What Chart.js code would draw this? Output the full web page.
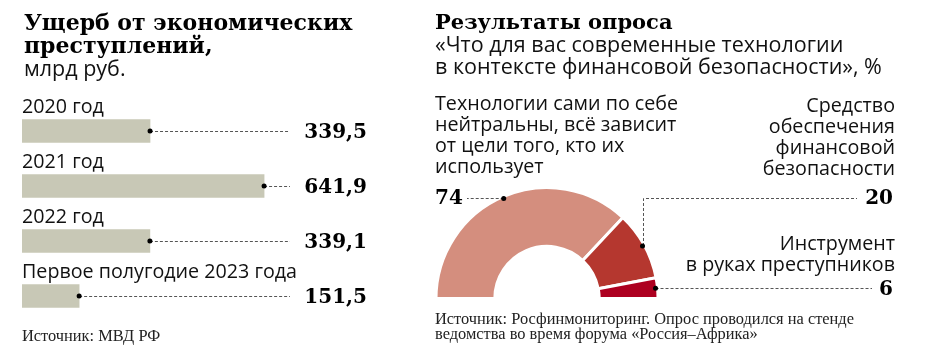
<!DOCTYPE html>
<html lang="ru">
<head>
<meta charset="utf-8">
<script src="https://cdn.jsdelivr.net/npm/chart.js@4.4.0/dist/chart.umd.min.js"></script>
<style>
html, body { margin: 0; padding: 0; background: #fff; }
#wrap { position: relative; width: 930px; height: 363px; overflow: hidden; font-family: "Open Sans", sans-serif; color: #111; }
canvas { position: absolute; top: 0; }
.t { position: absolute; white-space: nowrap; }
.hd { font-family: "DejaVu Serif", serif; font-weight: bold; font-size: 21px; line-height: 23px; color: #000; }
.sub { font-size: 21.5px; line-height: 22px; }
.src { font-family: "Liberation Serif", serif; font-size: 16.4px; line-height: 15px; color: #222; }
</style>
</head>
<body>
<div id="wrap">
  <canvas id="bars" width="420" height="363" style="left:0"></canvas>
  <canvas id="poll" width="510" height="363" style="left:420px"></canvas>

  <div class="t" style="left:24px; top:11px">
    <div class="hd" style="font-size:22px">Ущерб от экономических<br>преступлений,</div>
    <div class="sub">млрд руб.</div>
  </div>
  <div class="t src" style="left:22px; top:328px">Источник: МВД РФ</div>

  <div class="t" style="left:435px; top:10px">
    <div class="hd">Результаты опроса</div>
    <div class="sub">«Что для вас современные технологии<br>в контексте финансовой безопасности», %</div>
  </div>
  <div class="t src" style="left:435px; top:311px">Источник: Росфинмониторинг. Опрос проводился на стенде<br>ведомства во время форума «Россия–Африка»</div>
</div>

<script>
// ущерб, млрд руб.
const years = ['2020 год', '2021 год', '2022 год', 'Первое полугодие 2023 года'];
const damage = [339.5, 641.9, 339.1, 151.5];

// опрос, %
const answers = [
  ['Технологии сами по себе', 'нейтральны, всё зависит', 'от цели того, кто их', 'использует'],
  ['Средство', 'обеспечения', 'финансовой', 'безопасности'],
  ['Инструмент', 'в руках преступников']
];
const shares = [74, 20, 6];

const BODY = '19.7px "Open Sans"';
const NUM = 'bold 20px "DejaVu Serif"';
const fmt = v => v.toFixed(1).replace('.', ',');

function dashed(ctx, pts) {
  ctx.save();
  ctx.setLineDash([3, 2]);
  ctx.strokeStyle = '#555';
  ctx.lineWidth = 1;
  ctx.beginPath();
  ctx.moveTo(pts[0][0], pts[0][1]);
  for (let i = 1; i < pts.length; i++) ctx.lineTo(pts[i][0], pts[i][1]);
  ctx.stroke();
  ctx.restore();
}
function dot(ctx, x, y) {
  ctx.beginPath();
  ctx.arc(x, y, 2.5, 0, Math.PI * 2);
  ctx.fillStyle = '#000';
  ctx.fill();
}

const barLabels = {
  id: 'barLabels',
  afterDatasetsDraw(chart) {
    const ctx = chart.ctx;
    const area = chart.chartArea;
    chart.getDatasetMeta(0).data.forEach((bar, i) => {
      const top = bar.y - bar.height / 2;
      ctx.font = BODY;
      ctx.fillStyle = '#111';
      ctx.textAlign = 'left';
      ctx.textBaseline = 'alphabetic';
      ctx.fillText(years[i], area.left, top - 7);
      const y = Math.round(bar.y) + 0.5;
      dashed(ctx, [[bar.x, y], [area.right + 4, y]]);
      dot(ctx, bar.x, bar.y);
      ctx.font = NUM;
      ctx.fillStyle = '#000';
      ctx.textAlign = 'right';
      ctx.fillText(fmt(damage[i]), area.right + 81, bar.y + 7);
    });
  }
};

new Chart(document.getElementById('bars'), {
  type: 'bar',
  data: {
    labels: years,
    datasets: [{
      data: damage,
      backgroundColor: '#c8c8b6',
      barThickness: 23
    }]
  },
  options: {
    responsive: false,
    animation: false,
    indexAxis: 'y',
    layout: { padding: { left: 22, top: 103.5, right: 134, bottom: 39.5 } },
    scales: {
      x: { display: false, min: 0, max: 700 },
      y: { display: false }
    },
    plugins: { legend: { display: false }, tooltip: { enabled: false } }
  },
  plugins: [barLabels]
});

// where the captions of the poll sit, canvas-relative
const pollLayout = [
  { align: 'left', x: 15, y: 110, numY: 204, lead: 'left', end: 47 },
  { align: 'right', x: 475, y: 112, numY: 204, lead: 'upRight', end: 437 },
  { align: 'right', x: 475, y: 250, numY: 295, lead: 'right', end: 452 }
];

const pollLabels = {
  id: 'pollLabels',
  afterDatasetsDraw(chart) {
    const ctx = chart.ctx;
    chart.getDatasetMeta(0).data.forEach((arc, i) => {
      const p = arc.getProps(['x', 'y', 'startAngle', 'endAngle', 'outerRadius']);
      const mid = (p.startAngle + p.endAngle) / 2;
      const r = p.outerRadius - 2;
      const dx = p.x + Math.cos(mid) * r;
      const dy = p.y + Math.sin(mid) * r;
      const L = pollLayout[i];

      ctx.font = BODY;
      ctx.fillStyle = '#111';
      ctx.textAlign = L.align;
      ctx.textBaseline = 'alphabetic';
      answers[i].forEach((line, k) => ctx.fillText(line, L.x, L.y + k * 21));

      ctx.font = NUM;
      ctx.fillStyle = '#000';
      const nx = L.align === 'left' ? L.x : L.x - 2;
      ctx.fillText(String(shares[i]), nx, L.numY);

      if (L.lead === 'left') {
        const y = Math.round(dy) + 0.5;
        dashed(ctx, [[dx, y], [L.end, y]]);
      } else if (L.lead === 'upRight') {
        const x = Math.round(dx) + 0.5;
        const y = L.numY - 6 + 0.5;
        dashed(ctx, [[x, dy], [x, y], [L.end, y]]);
      } else {
        const y = Math.round(dy) + 0.5;
        dashed(ctx, [[dx, y], [L.end, y]]);
      }
      dot(ctx, dx, dy);
    });
  }
};

new Chart(document.getElementById('poll'), {
  type: 'doughnut',
  data: {
    labels: answers.map(a => a.join(' ')),
    datasets: [{
      data: shares,
      backgroundColor: ['#d48e7e', '#b5372f', '#ad0020'],
      borderColor: '#fff',
      borderWidth: 3
    }]
  },
  options: {
    responsive: false,
    animation: false,
    rotation: -90,
    circumference: 180,
    cutout: '47%',
    layout: { padding: { left: 14, top: 186, right: 270, bottom: 63 } },
    plugins: { legend: { display: false }, tooltip: { enabled: false } }
  },
  plugins: [pollLabels]
});
</script>
</body>
</html>
